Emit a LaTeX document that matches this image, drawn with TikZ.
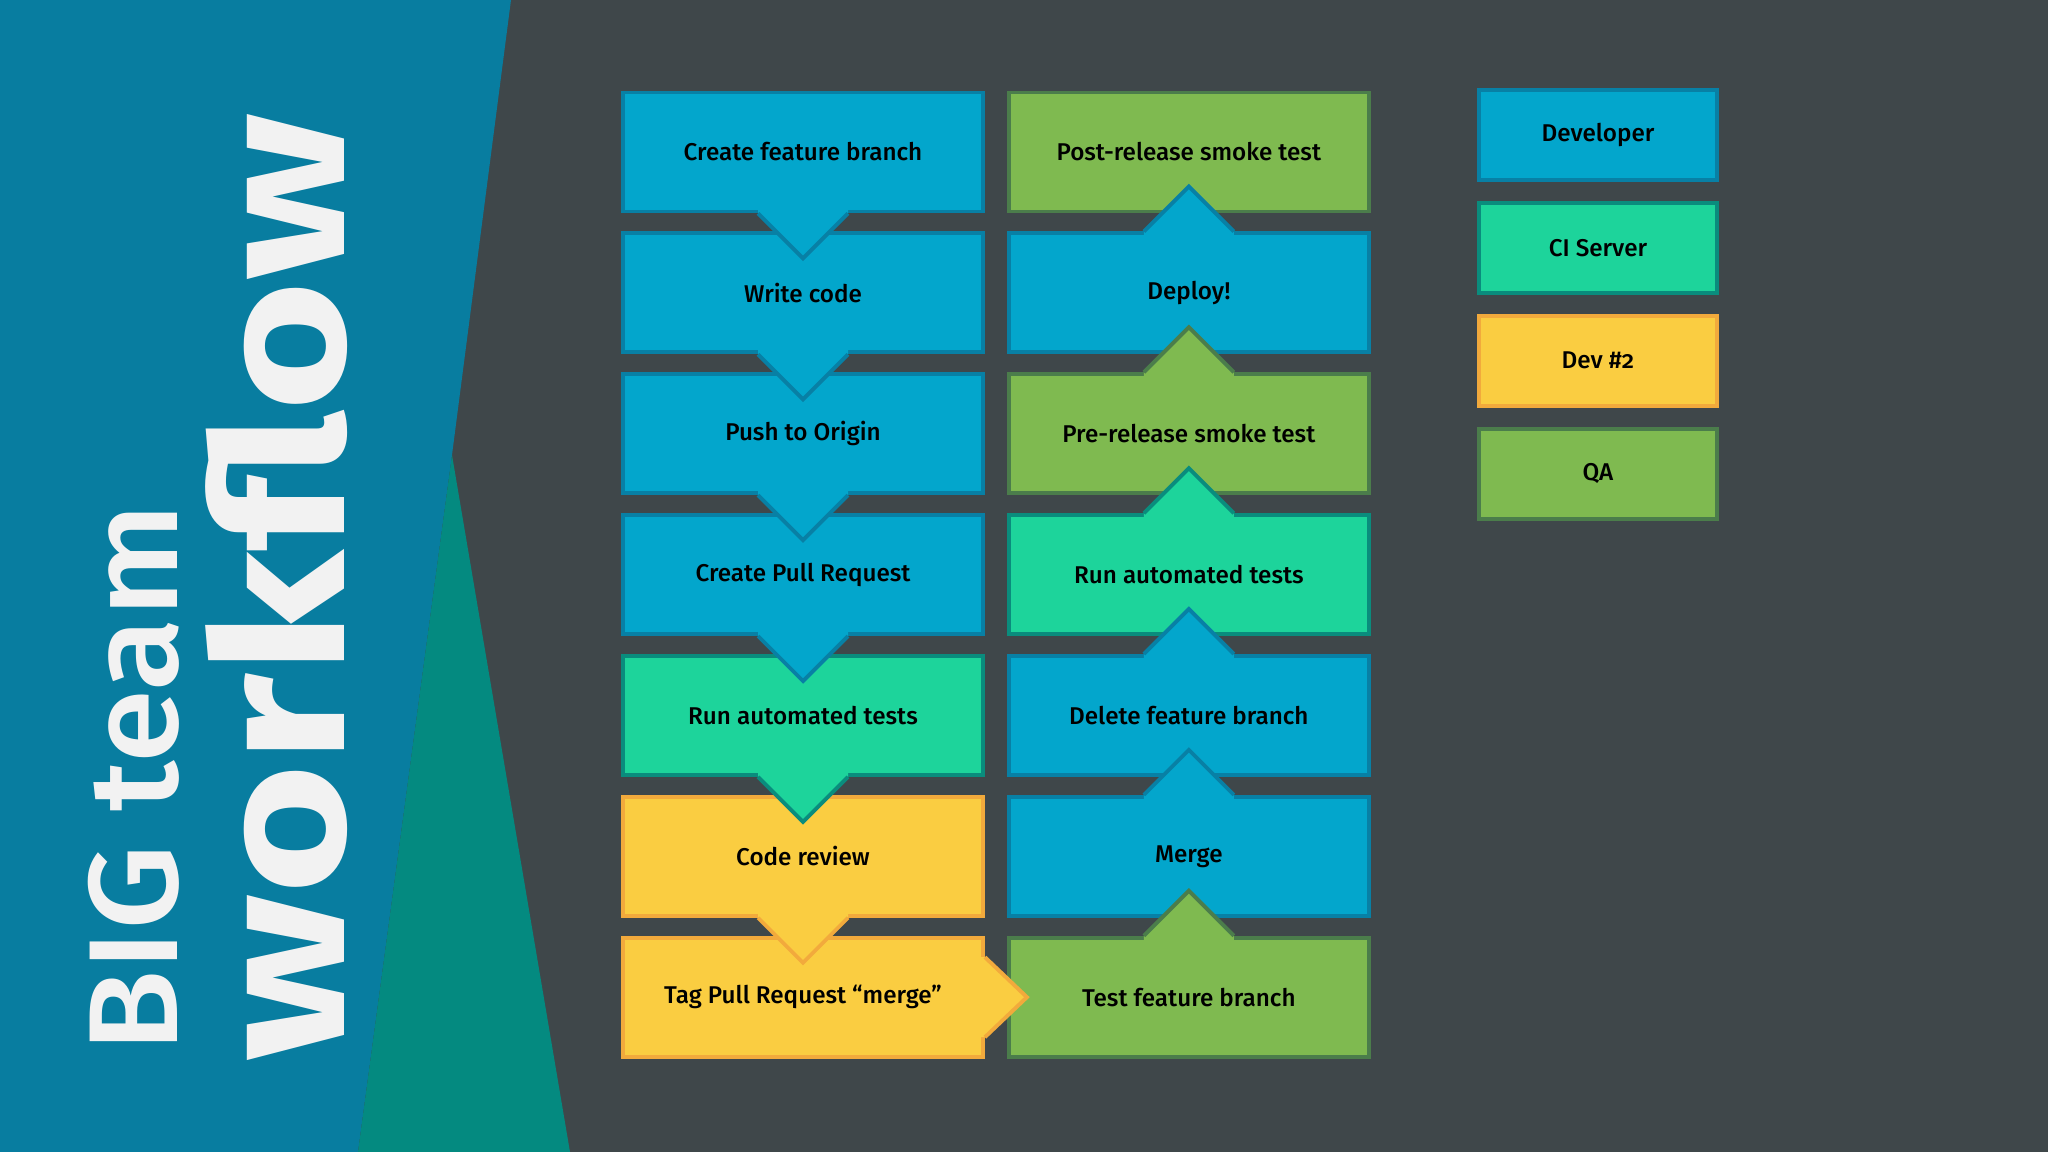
\documentclass[tikz,border=0pt]{standalone}
\usepackage{fontspec}
\setmainfont{Fira Sans}
\newfontfamily\boxfont{Fira Sans Medium}[Numbers=OldStyle]
\usepackage{tikz}
\usetikzlibrary{positioning, calc}
\definecolor{slate}{HTML}{3F474A}
\definecolor{panelblue}{HTML}{087DA0}
\definecolor{panelteal}{HTML}{048A80}
\definecolor{titlewhite}{HTML}{F2F2F2}
\definecolor{devfill}{HTML}{03A6CC}
\definecolor{devline}{HTML}{0880A5}
\definecolor{cifill}{HTML}{1DD49B}
\definecolor{ciline}{HTML}{0A8C7D}
\definecolor{dtwofill}{HTML}{FACD41}
\definecolor{dtwoline}{HTML}{F2AA3C}
\definecolor{qafill}{HTML}{7FBA50}
\definecolor{qaline}{HTML}{4B7D4B}

% pointer from a step into its neighbour: node, colour style
\newcommand{\pointerdown}[2]{%
  \fill[#2, draw=none] ([xshift=-0.45cm,yshift=0.08cm]#1.south) -- ([xshift=-0.45cm]#1.south) -- ([yshift=-0.45cm]#1.south) -- ([xshift=0.45cm]#1.south) -- ([xshift=0.45cm,yshift=0.08cm]#1.south) -- cycle;
  \draw[#2, fill=none, line width=1.1pt] ([xshift=-0.45cm]#1.south) -- ([yshift=-0.45cm]#1.south) -- ([xshift=0.45cm]#1.south);
}
\newcommand{\pointerup}[2]{%
  \fill[#2, draw=none] ([xshift=-0.45cm,yshift=-0.08cm]#1.north) -- ([xshift=-0.45cm]#1.north) -- ([yshift=0.45cm]#1.north) -- ([xshift=0.45cm]#1.north) -- ([xshift=0.45cm,yshift=-0.08cm]#1.north) -- cycle;
  \draw[#2, fill=none, line width=1.1pt] ([xshift=-0.45cm]#1.north) -- ([yshift=0.45cm]#1.north) -- ([xshift=0.45cm]#1.north);
}
\newcommand{\pointerright}[2]{%
  \fill[#2, draw=none] ([xshift=-0.08cm,yshift=0.4cm]#1.east) -- ([yshift=0.4cm]#1.east) -- ([xshift=0.42cm]#1.east) -- ([yshift=-0.4cm]#1.east) -- ([xshift=-0.08cm,yshift=-0.4cm]#1.east) -- cycle;
  \draw[#2, fill=none, line width=1.1pt] ([yshift=0.4cm]#1.east) -- ([xshift=0.42cm]#1.east) -- ([yshift=-0.4cm]#1.east);
}

\begin{document}
\begin{tikzpicture}[
  stepbox/.style={rectangle, minimum width=3.6cm, minimum height=1.19cm, inner sep=0pt, line width=1.1pt, font=\boxfont\fontsize{6.9}{8}\selectfont, align=center},
  keybox/.style={stepbox, minimum width=2.38cm, minimum height=0.9cm},
  dev/.style={fill=devfill, draw=devline},
  ci/.style={fill=cifill, draw=ciline},
  dtwo/.style={fill=dtwofill, draw=dtwoline},
  qa/.style={fill=qafill, draw=qaline}
]
  % background and title panel
  \fill[slate] (0,0) rectangle (20.48,11.52);
  \fill[panelblue] (0,0) -- (0,11.52) -- (5.11,11.52) -- (4.52,6.97) -- (3.58,0) -- cycle;
  \fill[panelteal] (4.52,6.97) -- (5.70,0) -- (3.58,0) -- cycle;

  \node[anchor=base west, rotate=90, inner sep=0pt, text=titlewhite, font=\boxfont\fontsize{36}{36}\selectfont] (bigteam) at (1.78,0.99) {\scalebox{1.06}[1]{BIG team}};
  \node[anchor=base west, rotate=90, inner sep=0pt, text=titlewhite, font=\bfseries\fontsize{56}{56}\selectfont] (workflow) at (3.44,0.90) {\scalebox{1.134}[0.93]{workflow}};

  % left column, top to bottom
  \node[stepbox, dev] (c1) at (8.03,10.0) {Create feature branch};
  \node[stepbox, dev, below=0.18cm of c1] (c2) {Write code};
  \node[stepbox, dev, below=0.18cm of c2] (c3) {Push to Origin};
  \node[stepbox, dev, below=0.18cm of c3] (c4) {Create Pull Request};
  \node[stepbox, ci, below=0.18cm of c4] (c5) {Run automated tests};
  \node[stepbox, dtwo, below=0.18cm of c5] (c6) {Code review};
  \node[stepbox, dtwo, below=0.18cm of c6] (c7) {Tag Pull Request “merge”};

  % right column, bottom to top
  \node[stepbox, qa, right=0.22cm of c7] (r1) {Test feature branch};
  \node[stepbox, dev, above=0.18cm of r1] (r2) {Merge};
  \node[stepbox, dev, above=0.18cm of r2] (r3) {Delete feature branch};
  \node[stepbox, ci, above=0.18cm of r3] (r4) {Run automated tests};
  \node[stepbox, qa, above=0.18cm of r4] (r5) {Pre-release smoke test};
  \node[stepbox, dev, above=0.18cm of r5] (r6) {Deploy!};
  \node[stepbox, qa, above=0.18cm of r6] (r7) {Post-release smoke test};

  % pointers
  \pointerdown{c1}{dev}
  \pointerdown{c2}{dev}
  \pointerdown{c3}{dev}
  \pointerdown{c4}{dev}
  \pointerdown{c5}{ci}
  \pointerdown{c6}{dtwo}
  \pointerright{c7}{dtwo}
  \pointerup{r1}{qa}
  \pointerup{r2}{dev}
  \pointerup{r3}{dev}
  \pointerup{r4}{ci}
  \pointerup{r5}{qa}
  \pointerup{r6}{dev}

  % legend
  \node[keybox, dev] (kdev) at (15.98,10.17) {Developer};
  \node[keybox, ci, below=0.19cm of kdev] (kci) {CI Server};
  \node[keybox, dtwo, below=0.19cm of kci] (kdtwo) {Dev \#2};
  \node[keybox, qa, below=0.19cm of kdtwo] (kqa) {QA};
\end{tikzpicture}
\end{document}
